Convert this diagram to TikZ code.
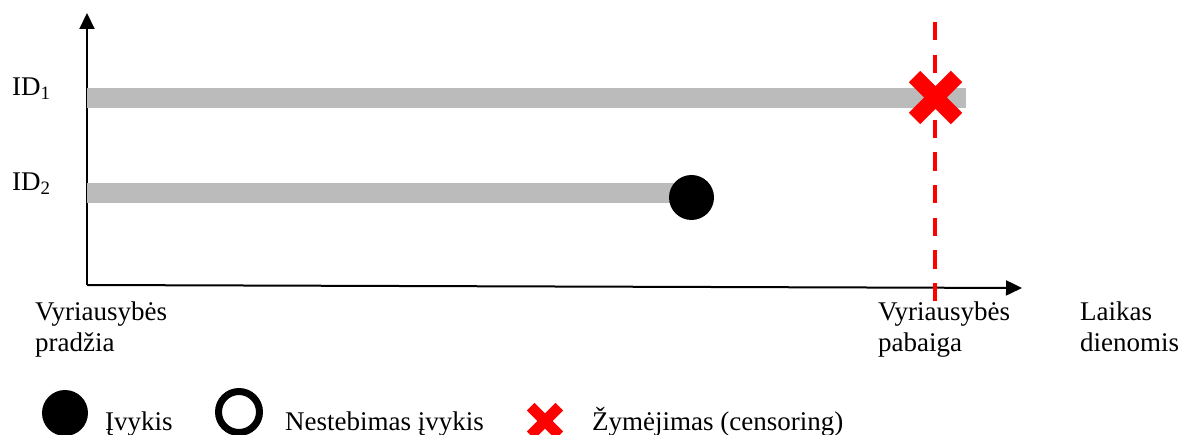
\documentclass[tikz,border=0pt]{standalone}
\usepackage{fontspec}
\setmainfont{Liberation Serif}
\usetikzlibrary{arrows.meta}

\definecolor{bargray}{RGB}{187,187,187}
\definecolor{censorred}{RGB}{255,0,0}

\tikzset{
  axis/.style={line width=2pt, -{Triangle[length=16pt,width=15pt]}},
  timebar/.style={bargray, line width=20pt},
  endline/.style={censorred, line width=4pt, dash pattern=on 18.5pt off 14.1pt},
  event/.style={circle, fill=black, inner sep=0pt, minimum size=#1},
  label/.style={inner sep=0pt, anchor=base west, align=left, font=\fontsize{27}{31}\selectfont},
  censor/.pic={
    \draw[censorred, line width=16*#1 pt]
      ({-21*#1},{-21*#1}) -- ({21*#1},{21*#1})
      ({-21*#1},{21*#1}) -- ({21*#1},{-21*#1});
  }
}

\begin{document}
\begin{tikzpicture}[x=1pt, y=-1pt]
  \useasboundingbox (0,0) rectangle (1178,435);

  % axes
  \coordinate (O) at (87,285);
  \coordinate (ytop) at (87,13);
  \coordinate (xend) at (1022,288);
  \draw[axis] (O) -- (ytop);
  \draw[axis] (O) -- (xend);

  % observation periods
  \coordinate (s1) at (87,98);
  \coordinate (e1) at (966,98);
  \coordinate (s2) at (87,193);
  \coordinate (e2) at (691,193);
  \draw[timebar] (s1) -- (e1);
  \draw[timebar] (s2) -- (e2);

  % end of the government term
  \coordinate (etop) at (935,22);
  \coordinate (ebot) at (935,302);
  \draw[endline] (etop) -- (ebot);

  % event and censoring marks
  \node[event=45pt] (ev2) at (691.5,197.5) {};
  \pic at (935.5,97.5) {censor=1};

  % row labels
  \node[label] (id1) at (12,96) {ID\textsubscript{1}};
  \node[label] (id2) at (12,191) {ID\textsubscript{2}};

  % time axis labels (anchored at the baseline of the second line)
  \node[label] (start) at (35,352) {Vyriausybės\\pradžia};
  \node[label] (end) at (878,352) {Vyriausybės\\pabaiga};
  \node[label] (time) at (1080,352) {Laikas\\dienomis};

  % legend
  \node[event=46pt] (lg1) at (65,413) {};
  \node[label] (lt1) at (105,430) {Įvykis};
  \node[circle, draw=black, line width=7pt, inner sep=0pt, minimum size=41pt] (lg2) at (239,412) {};
  \node[label] (lt2) at (285,430) {Nestebimas įvykis};
  \pic at (545,421) {censor=0.68};
  \node[label] (lt3) at (592,430) {Žymėjimas (censoring)};
\end{tikzpicture}
\end{document}
